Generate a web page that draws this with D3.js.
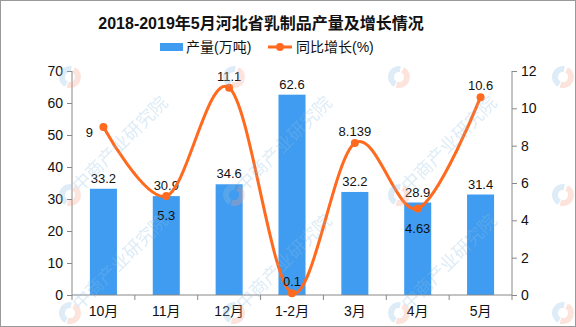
<!DOCTYPE html>
<html><head><meta charset="utf-8">
<script src="https://cdn.jsdelivr.net/npm/d3@7"></script>
<style>body{margin:0;background:#fff}svg{display:block}</style>
</head><body>
<script>
const categories = ["10月","11月","12月","1-2月","3月","4月","5月"];
const output = [33.2, 30.9, 34.6, 62.6, 32.2, 28.9, 31.4];
const growth = [9, 5.3, 11.1, 0.1, 8.139, 4.63, 10.6];
const growthLabels = ["9","5.3","11.1","0.1","8.139","4.63","10.6"];
const leftTicks = [0,10,20,30,40,50,60,70];
const rightTicks = [0,2,4,6,8,10,12];

const W = 576, H = 327;
const font = "'Liberation Sans','Noto Sans CJK SC',sans-serif";
const svg = d3.select("body").append("svg").attr("width", W).attr("height", H)
  .style("font-family", font);

svg.append("rect").attr("x",0.5).attr("y",0.5).attr("width",W-1).attr("height",H-1)
  .attr("fill","#fff").attr("stroke","#999");

const x = d3.scaleBand().domain(categories).range([72,512]).paddingInner(0.57).paddingOuter(0.285);
const xb = d3.scaleBand().domain(categories).range([72,512]);
const yL = d3.scaleLinear().domain([0,70]).range([295,71]);
const yR = d3.scaleLinear().domain([0,12]).range([295,71]);

// title
svg.append("text").attr("x",261).attr("y",29).attr("text-anchor","middle")
  .attr("font-size",16).attr("font-weight","bold").attr("fill","#111")
  .text("2018-2019年5月河北省乳制品产量及增长情况");

// legend
svg.append("rect").attr("x",160).attr("y",43).attr("width",23).attr("height",8).attr("fill","#3f9cf0");
svg.append("text").attr("x",186).attr("y",52).attr("font-size",14).attr("fill","#111").text("产量(万吨)");
svg.append("line").attr("x1",268).attr("x2",292).attr("y1",47).attr("y2",47).attr("stroke","#ff6a1e").attr("stroke-width",3);
svg.append("circle").attr("cx",280).attr("cy",47).attr("r",4).attr("fill","#ff6a1e");
svg.append("text").attr("x",296).attr("y",52).attr("font-size",14).attr("fill","#111").text("同比增长(%)");

// bars
svg.selectAll("rect.bar").data(output).join("rect").attr("class","bar")
  .attr("x",(d,i)=>x(categories[i])).attr("width",x.bandwidth())
  .attr("y",d=>yL(d)).attr("height",d=>yL(0)-yL(d)).attr("fill","#3f9cf0");

svg.selectAll("text.bl").data(output).join("text").attr("class","bl")
  .attr("x",(d,i)=>x(categories[i])+x.bandwidth()/2).attr("y",d=>yL(d)-6)
  .attr("text-anchor","middle").attr("font-size",13).attr("fill","#111").text(d=>d.toFixed(1));

// axes
const axisCol = "#888";
const gl = svg.append("g").attr("transform","translate(72,0)")
  .call(d3.axisLeft(yL).tickValues(leftTicks).tickSize(5).tickPadding(4));
const gr = svg.append("g").attr("transform","translate(512,0)")
  .call(d3.axisRight(yR).tickValues(rightTicks).tickSize(5).tickPadding(4));
const gx = svg.append("g").attr("transform","translate(0,295)")
  .call(d3.axisBottom(xb).tickSize(0).tickPadding(11));
gx.selectAll(".tick").append("line").attr("x1",-xb.bandwidth()/2).attr("x2",-xb.bandwidth()/2)
  .attr("y1",0).attr("y2",5).attr("stroke",axisCol);
gx.append("line").attr("x1",512).attr("x2",512).attr("y1",0).attr("y2",5).attr("stroke",axisCol);
[gl,gr,gx].forEach(g=>{
  g.select(".domain").attr("stroke",axisCol);
  g.selectAll(".tick line").attr("stroke",axisCol);
  g.selectAll("text").attr("font-size",14).attr("fill","#111").style("font-family",font);
});
gl.select(".domain").attr("d","M0,295V71");
gr.select(".domain").attr("d","M0,295V71");
gx.select(".domain").attr("d","M72,0H512");

// growth line
const cx = i => xb(categories[i]) + xb.bandwidth()/2;
const line = d3.line().x((d,i)=>cx(i)).y(d=>yR(d)).curve(d3.curveCardinal.tension(0));
svg.append("path").datum(growth).attr("d",line).attr("fill","none")
  .attr("stroke","#ff6a1e").attr("stroke-width",3);
svg.selectAll("circle.pt").data(growth).join("circle").attr("class","pt")
  .attr("cx",(d,i)=>cx(i)).attr("cy",d=>yR(d)).attr("r",4).attr("fill","#ff6a1e");

const below = [false,true,false,false,false,true,false];
svg.selectAll("text.gl").data(growth).join("text").attr("class","gl")
  .attr("x",(d,i)=> i===0 ? cx(i)-14 : cx(i))
  .attr("y",(d,i)=> i===0 ? yR(d)+10 : below[i] ? yR(d)+24 : yR(d)-7)
  .attr("text-anchor","middle").attr("font-size",13).attr("fill","#111")
  .text((d,i)=>growthLabels[i]);

// watermark: faint logos on a grid, with the publisher name running diagonally
const wm = svg.append("g").attr("opacity",0.3).style("pointer-events","none");
const wmX = [70, 234, 399, 563];
const wmY = [77, 195, 313];
wmX.forEach(px => wmY.forEach(py => {
  const g = wm.append("g").attr("transform",`translate(${px},${py})`);
  g.append("path").attr("d",d3.arc()({innerRadius:5,outerRadius:11,startAngle:Math.PI*0.15,endAngle:Math.PI*1.1}))
    .attr("fill","#f4a08a");
  g.append("path").attr("d",d3.arc()({innerRadius:5,outerRadius:11,startAngle:Math.PI*1.15,endAngle:Math.PI*2.05}))
    .attr("fill","#8fbfe3");
  if (py > 100 && px < 500) {
    g.append("text").attr("transform","translate(10,-2) rotate(-45)")
      .attr("font-size",18).attr("fill","#8fbfe3")
      .text("中商产业研究院");
  }
}));
</script>
</body></html>
